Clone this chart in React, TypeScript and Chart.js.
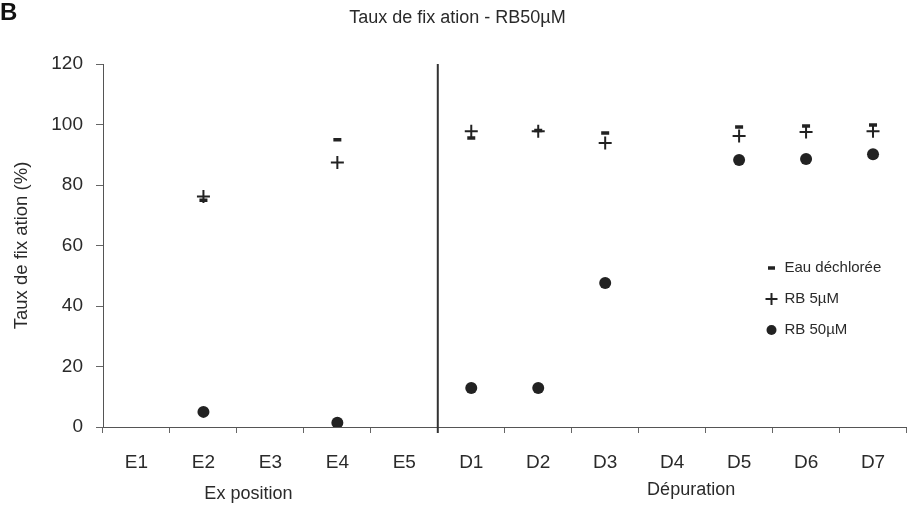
import { useEffect, useRef } from 'react';
import { Chart, registerables } from 'chart.js';

Chart.register(...registerables);

// ---- data ----
const categories = ['E1', 'E2', 'E3', 'E4', 'E5', 'D1', 'D2', 'D3', 'D4', 'D5', 'D6', 'D7'];
const eauDechloree = [null, 75, null, 95, null, 95.5, 98, 97.2, null, 99.2, 99.5, 99.8];
const rb5 = [null, 76.2, null, 87.4, null, 97.8, 97.8, 93.9, null, 96.2, 97.5, 97.8];
const rb50 = [null, 5, null, 1.4, null, 12.9, 12.9, 47.6, null, 88.3, 88.6, 90.2];
const seriesLabels = ['Eau déchlorée', 'RB 5µM', 'RB 50µM'];
const yMin = 0;
const yMax = 120;
const yStep = 20;
const groupLabels = ['Ex position', 'Dépuration'];
const groupFirst = [0, 5];
const groupLast = [4, 11];
const titleText = 'Taux de fix ation - RB50µM';
const yTitle = 'Taux de fix ation (%)';
const panelLetter = 'B';

const FONT = "'Liberation Sans', Arial, sans-serif";
const INK = '#222';
const TEXT = '#2a2a2a';

const overlay = {
  id: 'overlay',
  afterDraw(chart: any) {
    const { ctx, chartArea } = chart;
    const x = chart.scales.x;
    ctx.save();
    // divider between exposure and depuration
    const xd = (x.getPixelForValue(groupLast[0]) + x.getPixelForValue(groupFirst[1])) / 2;
    ctx.strokeStyle = '#333';
    ctx.lineWidth = 2;
    ctx.beginPath();
    ctx.moveTo(xd, chartArea.top);
    ctx.lineTo(xd, chartArea.bottom + 6);
    ctx.stroke();

    // group labels
    ctx.fillStyle = TEXT;
    ctx.font = `18px ${FONT}`;
    ctx.textAlign = 'center';
    ctx.textBaseline = 'middle';
    const shifts = [-22, 19];
    const ys = [494, 490];
    groupLabels.forEach((g, i) => {
      const cx = (x.getPixelForValue(groupFirst[i]) + x.getPixelForValue(groupLast[i])) / 2 + shifts[i];
      ctx.fillText(g, cx, ys[i]);
    });

    // panel letter
    ctx.fillStyle = '#111';
    ctx.font = `bold 24px ${FONT}`;
    ctx.textAlign = 'left';
    ctx.fillText(panelLetter, 0, 13);

    // legend
    const lx = chartArea.right - 135;
    const ly0 = 268;
    const dy = 31;
    ctx.font = `15px ${FONT}`;
    ctx.textAlign = 'left';
    chart.data.datasets.forEach((ds: any, i: number) => {
      const y = ly0 + i * dy;
      ctx.strokeStyle = INK;
      ctx.fillStyle = INK;
      if (ds.pointStyle === 'line') {
        ctx.lineWidth = 3.5;
        ctx.beginPath();
        ctx.moveTo(lx - 3.5, y);
        ctx.lineTo(lx + 3.5, y);
        ctx.stroke();
      } else if (ds.pointStyle === 'cross') {
        ctx.lineWidth = 2;
        ctx.beginPath();
        ctx.moveTo(lx - 6, y);
        ctx.lineTo(lx + 6, y);
        ctx.moveTo(lx, y - 6);
        ctx.lineTo(lx, y + 6);
        ctx.stroke();
      } else {
        ctx.beginPath();
        ctx.arc(lx, y, 5, 0, Math.PI * 2);
        ctx.fill();
      }
      ctx.fillStyle = TEXT;
      ctx.fillText(ds.label, lx + 13, y);
    });
    ctx.restore();
  },
};

export default function App() {
  const ref = useRef<HTMLCanvasElement | null>(null);
  useEffect(() => {
    if (!ref.current) return;
    const chart = new Chart(ref.current, {
      type: 'line',
      data: {
        labels: categories,
        datasets: [
          {
            label: seriesLabels[0],
            data: eauDechloree,
            showLine: false,
            pointStyle: 'line',
            pointRadius: 4,
            pointBorderWidth: 3.5,
            borderColor: INK,
            backgroundColor: INK,
          },
          {
            label: seriesLabels[1],
            data: rb5,
            showLine: false,
            pointStyle: 'cross',
            pointRadius: 6.5,
            pointBorderWidth: 2,
            borderColor: INK,
            backgroundColor: INK,
          },
          {
            label: seriesLabels[2],
            data: rb50,
            showLine: false,
            pointStyle: 'circle',
            pointRadius: 6,
            pointBorderWidth: 0,
            borderColor: INK,
            backgroundColor: INK,
          },
        ],
      } as any,
      options: {
        animation: false,
        responsive: true,
        maintainAspectRatio: false,
        layout: { padding: 0 },
        plugins: {
          legend: { display: false },
          tooltip: { enabled: false },
          title: {
            display: true,
            text: titleText,
            color: TEXT,
            font: { family: FONT, size: 18, weight: 'normal' },
            padding: { top: 7, bottom: 35.4 },
          },
        },
        scales: {
          x: {
            type: 'category',
            offset: true,
            grid: {
              display: true,
              drawOnChartArea: false,
              drawTicks: true,
              tickLength: 6,
              offset: true,
              color: '#666',
            },
            border: { display: true, color: '#555', width: 1 },
            ticks: {
              color: TEXT,
              font: { family: FONT, size: 19 },
              padding: 18,
              maxRotation: 0,
            },
            afterFit(scale: any) {
              scale.height = 79;
            },
          },
          y: {
            min: yMin,
            max: yMax,
            grid: {
              display: true,
              drawOnChartArea: false,
              drawTicks: true,
              tickLength: 7,
              color: '#666',
            },
            border: { display: true, color: '#555', width: 1 },
            ticks: {
              stepSize: yStep,
              color: TEXT,
              font: { family: FONT, size: 19 },
              padding: 13,
            },
            title: {
              display: true,
              text: yTitle,
              color: TEXT,
              font: { family: FONT, size: 18.5 },
              padding: { top: 11, bottom: 0 },
            },
            afterFit(scale: any) {
              scale.width = 103;
            },
          },
        },
      } as any,
      plugins: [overlay],
    });
    return () => chart.destroy();
  }, []);

  return (
    <div style={{ position: 'fixed', left: 0, top: 0, width: 915, height: 506, background: '#fff' }}>
      <canvas ref={ref} />
    </div>
  );
}
